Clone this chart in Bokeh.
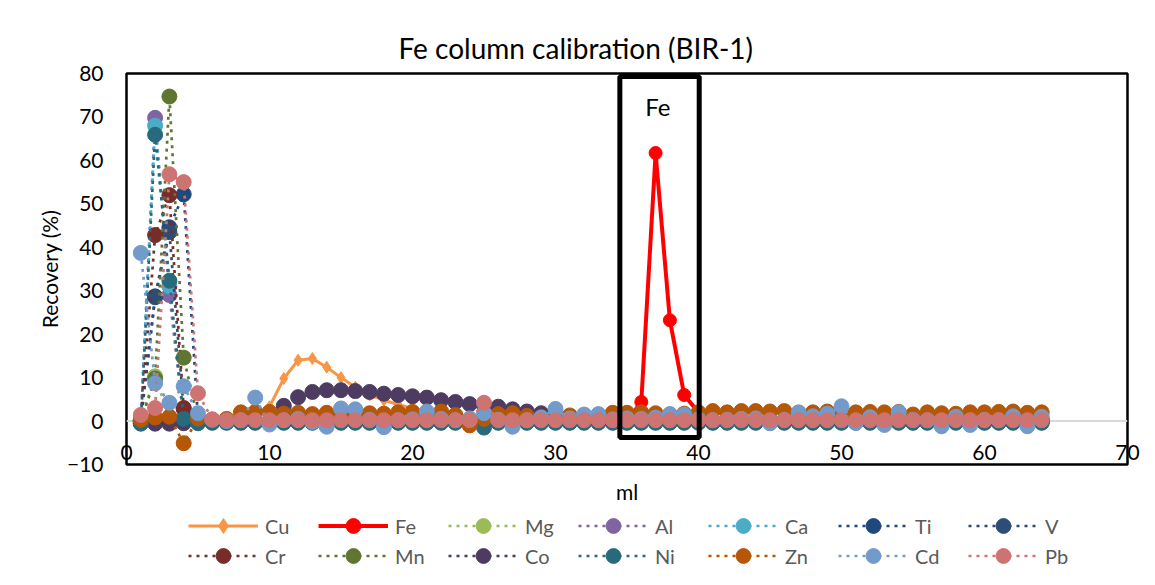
from bokeh.plotting import figure
from bokeh.layouts import column
from bokeh.models import Range1d, Span, BoxAnnotation, Label, Legend, LegendItem, FixedTicker
from bokeh.embed import file_html
from bokeh.resources import INLINE

# ---------------- data ----------------
ml = list(range(1, 65))

x_ticks = [0, 10, 20, 30, 40, 50, 60, 70]
y_ticks = [-10, 0, 10, 20, 30, 40, 50, 60, 70, 80]

cu = [0.0, 0.1, 0.0, 0.2, 0.1, 0.0, 0.1, 0.2, 0.6, 3.3,
      9.8, 14.0, 14.4, 12.4, 10.0, 7.8, 6.0, 4.8, 3.8, 2.9,
      2.2, 1.6, 1.2, 0.9, 0.7, 0.6, 0.5, 0.4, 0.4, 0.3,
      0.3, 0.3, 0.2, 0.2, 0.2, 0.2, 0.2, 0.2, 0.2, 0.2,
      0.2, 0.2, 0.2, 0.2, 0.2, 0.2, 0.2, 0.2, 0.2, 0.2,
      0.2, 0.2, 0.2, 0.2, 0.2, 0.2, 0.2, 0.2, 0.2, 0.2,
      0.2, 0.2, 0.2, 0.2]
fe = [0.1, 0.1, 0.1, 0.1, 0.1, 0.1, 0.1, 0.1, 0.1, 0.1,
      0.1, 0.1, 0.1, 0.1, 0.1, 0.1, 0.1, 0.1, 0.1, 0.1,
      0.1, 0.1, 0.1, 0.1, 0.1, 0.1, 0.1, 0.1, 0.1, 0.1,
      0.1, 0.1, 0.1, 0.1, 0.1, 4.4, 61.7, 23.2, 6.0, 2.0,
      0.3, 0.3, 0.3, 0.3, 0.3, 0.3, 0.3, 0.3, 0.3, 0.3,
      0.3, 0.3, 0.3, 0.3, 0.3, 0.3, 0.3, 0.3, 0.3, 0.3,
      0.3, 0.3, 0.3, 0.3]
mg = [0.2, 10.3, 0.8, 0.1, 0.0, 0.0, 0.0, 0.0, 0.0, 0.0,
      0.0, 0.0, 0.0, 0.0, 0.0, 0.0, 0.0, 0.0, 0.0, 0.0,
      0.0, 0.0, 0.0, 0.0, 0.0, 0.0, 0.0, 0.0, 0.0, 0.0,
      0.0, 0.0, 0.0, 0.0, 0.0, 0.0, 0.0, 0.0, 0.0, 0.0,
      0.0, 0.0, 0.0, 0.0, 0.0, 0.0, 0.0, 0.0, 0.0, 0.0,
      0.0, 0.0, 0.0, 0.0, 0.0, 0.0, 0.0, 0.0, 0.0, 0.0,
      0.0, 0.0, 0.0, 0.0]
al = [-0.2, 69.8, 29.0, 0.3, -0.3, -0.3, -0.3, -0.3, -0.3, -0.3,
      -0.3, -0.3, -0.3, -0.3, -0.3, -0.3, -0.3, -0.3, -0.3, -0.3,
      -0.3, -0.3, -0.3, -0.3, -0.3, -0.3, -0.3, -0.3, -0.3, -0.3,
      -0.3, -0.3, -0.3, -0.3, -0.3, -0.3, -0.3, -0.3, -0.3, -0.3,
      -0.3, -0.3, -0.3, -0.3, -0.3, -0.3, -0.3, -0.3, -0.3, -0.3,
      -0.3, -0.3, -0.3, -0.3, -0.3, -0.3, -0.3, -0.3, -0.3, -0.3,
      -0.3, -0.3, -0.3, -0.3]
ca = [0.0, 68.0, 31.0, 0.5, 0.0, 0.0, 0.0, 0.0, 0.0, 0.0,
      0.0, 0.0, 0.0, 0.0, 0.0, 0.0, 0.0, 0.0, 0.0, 0.0,
      0.0, 0.0, 0.0, 0.0, 0.0, 0.0, 0.0, 0.0, 0.0, 0.0,
      0.0, 0.0, 0.0, 0.0, 0.0, 0.0, 0.0, 0.0, 0.0, 0.0,
      0.0, 0.0, 0.0, 0.0, 0.0, 0.0, 0.0, 0.0, 0.0, 0.0,
      0.0, 0.0, 0.0, 0.0, 0.0, 0.0, 0.0, 0.0, 0.0, 0.0,
      0.0, 0.0, 0.0, 0.0]
ti = [0.0, 28.7, 44.6, 52.2, 0.6, 0.0, 0.0, 0.0, 0.0, 0.0,
      0.0, 0.0, 0.0, 0.0, 0.0, 0.0, 0.0, 0.0, 0.0, 0.0,
      0.0, 0.0, 0.0, 0.0, 0.0, 0.0, 0.0, 0.0, 0.0, 0.0,
      0.0, 0.0, 0.0, 0.0, 0.0, 0.0, 0.0, 0.0, 0.0, 0.0,
      0.0, 0.0, 0.0, 0.0, 0.0, 0.0, 0.0, 0.0, 0.0, 0.0,
      0.0, 0.0, 0.0, 0.0, 0.0, 0.0, 0.0, 0.0, 0.0, 0.0,
      0.0, 0.0, 0.0, 0.0]
v = [0.1, 28.5, 43.5, 2.8, 0.3, 0.0, 0.0, 0.0, 0.0, 0.0,
     0.0, 0.0, 0.0, 0.0, 0.0, 0.0, 0.0, 0.0, 0.0, 0.0,
     0.0, 0.0, 0.0, 0.0, 0.0, 0.0, 0.0, 0.0, 0.0, 0.0,
     0.0, 0.0, 0.0, 0.0, 0.0, 0.0, 0.0, 0.0, 0.0, 0.0,
     0.0, 0.0, 0.0, 0.0, 0.0, 0.0, 0.0, 0.0, 0.0, 0.0,
     0.0, 0.0, 0.0, 0.0, 0.0, 0.0, 0.0, 0.0, 0.0, 0.0,
     0.0, 0.0, 0.0, 0.0]
cr = [0.0, 42.8, 52.0, 3.0, 0.2, 0.0, 0.0, 0.0, 0.0, 0.0,
      0.0, 0.0, 0.0, 0.0, 0.0, 0.0, 0.0, 0.0, 0.0, 0.0,
      0.0, 0.0, 0.0, 0.0, 0.0, 0.0, 0.0, 0.0, 0.0, 0.0,
      0.0, 0.0, 0.0, 0.0, 0.0, 0.0, 0.0, 0.0, 0.0, 0.0,
      0.0, 0.0, 0.0, 0.0, 0.0, 0.0, 0.0, 0.0, 0.0, 0.0,
      0.0, 0.0, 0.0, 0.0, 0.0, 0.0, 0.0, 0.0, 0.0, 0.0,
      0.0, 0.0, 0.0, 0.0]
mn = [0.0, 9.8, 74.7, 14.6, 0.4, 0.0, 0.0, 0.0, 0.0, 0.0,
      0.0, 0.0, 0.0, 0.0, 0.0, 0.0, 0.0, 0.0, 0.0, 0.0,
      0.0, 0.0, 0.0, 0.0, 0.0, 0.0, 0.0, 0.0, 0.0, 0.0,
      0.0, 0.0, 0.0, 0.0, 0.0, 0.0, 0.0, 0.0, 0.0, 0.0,
      0.0, 0.0, 0.0, 0.0, 0.0, 0.0, 0.0, 0.0, 0.0, 0.0,
      0.0, 0.0, 0.0, 0.0, 0.0, 0.0, 0.0, 0.0, 0.0, 0.0,
      0.0, 0.0, 0.0, 0.0]
co = [-0.5, -0.6, -0.6, -0.5, -0.3, -0.2, -0.2, -0.1, 0.0, 0.0,
      3.5, 5.5, 6.7, 7.1, 7.1, 6.9, 6.7, 6.3, 6.0, 5.7,
      5.4, 4.8, 4.4, 3.9, 3.6, 3.3, 2.7, 2.2, 1.8, 1.1,
      0.6, 0.4, 0.2, 0.2, 0.2, 0.2, 0.2, 0.2, 0.2, 0.2,
      0.2, 0.2, 0.2, 0.2, 0.2, 0.2, 0.2, 0.2, 0.2, 0.2,
      0.2, 0.2, 0.2, 0.2, 0.2, 0.2, 0.2, 0.2, 0.2, 0.2,
      0.2, 0.2, 0.2, 0.2]
ni = [-0.6, 65.9, 32.3, 0.5, -0.5, -0.4, -0.4, -0.4, -0.4, -0.4,
      -0.4, -0.4, -0.4, -0.4, -0.4, -0.4, -0.4, -0.4, -0.4, -0.4,
      -0.4, -0.4, -0.4, -0.4, -1.5, -0.4, -0.4, -0.4, -0.4, -0.4,
      -0.4, -0.4, -0.4, -0.4, -0.4, -0.4, -0.4, -0.4, -0.4, -0.4,
      -0.4, -0.4, -0.4, -0.4, -0.4, -0.4, -0.4, -0.4, -0.4, -0.4,
      -0.4, -0.4, -0.4, -0.4, -0.4, -0.4, -0.4, -0.4, -0.4, -0.4,
      -0.4, -0.4, -0.4, -0.4]
zn = [0.3, 0.8, 1.0, -5.1, 0.6, 0.3, 0.5, 2.0, 2.1, 2.1,
      1.7, 1.9, 1.6, 1.9, 1.3, 1.6, 1.8, 1.7, 2.0, 2.1,
      1.2, 2.2, 1.4, -1.0, 0.5, 1.6, 1.8, 1.2, 0.9, 1.0,
      1.3, 1.0, 1.2, 1.9, 1.9, 2.0, 1.8, 1.5, 1.7, 2.0,
      2.3, 2.0, 2.3, 2.3, 2.2, 2.3, 1.9, 2.0, 2.2, 1.6,
      2.0, 2.1, 2.0, 2.1, 1.5, 2.0, 1.8, 1.7, 2.0, 2.0,
      2.1, 2.2, 1.9, 2.0]
cd = [38.7, 8.7, 4.2, 8.0, 1.8, 0.3, 0.0, 0.2, 5.4, -0.8,
      0.2, 0.5, -0.2, -1.3, 2.9, 2.7, 0.3, -1.4, 0.2, 0.4,
      2.2, 0.5, 0.2, 0.6, 1.8, 0.3, -1.3, 0.2, 0.8, 2.8,
      0.6, 1.5, 1.6, 0.4, 0.6, 0.5, 0.8, 1.6, 1.5, 0.4,
      0.2, 0.3, 0.5, 0.6, -0.5, 0.3, 2.0, 1.1, 1.7, 3.4,
      -0.4, 0.9, -0.9, 2.0, 0.3, 0.2, -1.2, 1.0, -0.9, 0.3,
      0.2, 1.1, -1.2, 1.0]
pb = [1.4, 3.0, 56.8, 55.0, 6.4, 0.4, 0.2, 0.2, 0.2, 0.2,
      0.2, 0.2, 0.2, 0.2, 0.2, 0.2, 0.2, 0.2, 0.2, 0.2,
      0.2, 0.2, 0.2, 0.2, 4.2, 0.2, 0.2, 0.2, 0.2, 0.2,
      0.2, 0.2, 0.2, 0.2, 0.2, 0.2, 0.2, 0.2, 0.2, 0.2,
      0.2, 0.2, 0.2, 0.2, 0.2, 0.2, 0.2, 0.2, 0.2, 0.2,
      0.2, 0.2, 0.2, 0.2, 0.2, 0.2, 0.2, 0.2, 0.2, 0.2,
      0.2, 0.2, 0.2, 0.2]

names = ["Cu", "Fe", "Mg", "Al", "Ca", "Ti", "V",
         "Cr", "Mn", "Co", "Ni", "Zn", "Cd", "Pb"]
values = [cu, fe, mg, al, ca, ti, v, cr, mn, co, ni, zn, cd, pb]
colors = ["#F79646", "#FF0000", "#9BBB59", "#8064A2", "#4BACC6", "#1F497D", "#2C4D75",
          "#772C2A", "#5F7530", "#4D3B62", "#276A7C", "#B65708", "#729ACA", "#CD7371"]

# Fe highlight box (annotation bounds)
fe_box = dict(left=34.5, right=40.05, bottom=-3.8, top=79.3)
fe_label_pos = (37.15, 72.4)

FONT = "Lato"


def style_for(name, col):
    if name == "Cu":
        return (dict(line_color=col, line_width=3),
                dict(marker="diamond", size=12, fill_color=col, line_color=col))
    if name == "Fe":
        return (dict(line_color=col, line_width=4),
                dict(marker="circle", size=13, fill_color=col, line_color=col))
    return (dict(line_color=col, line_width=2.7, line_dash="3 5"),
            dict(marker="circle", size=15, fill_color=col, line_color=col))


# ---------------- main figure ----------------
p = figure(frame_width=1001, frame_height=391, output_backend="svg", toolbar_location=None,
           x_range=Range1d(0, 70), y_range=Range1d(-10, 80),
           min_border_left=126, min_border_right=28, min_border_top=73,
           min_border_bottom=46)

p.title.text = "Fe column calibration (BIR-1)"
p.title.text_font = FONT
p.title.text_font_size = "28px"
p.title.text_font_style = "normal"
p.title.text_color = "#000000"
p.title.align = "left"
p.title.offset = 272
p.title.standoff = 17

p.grid.visible = False
p.outline_line_color = "#000000"
p.outline_line_width = 2.5
p.background_fill_color = "white"
p.border_fill_color = "white"

for ax in (p.xaxis, p.yaxis):
    ax.axis_line_color = None
    ax.major_tick_line_color = None
    ax.minor_tick_line_color = None
    ax.major_label_text_font = FONT
    ax.major_label_text_font_size = "21px"
    ax.major_label_text_color = "#000000"
    ax.axis_label_text_font = FONT
    ax.axis_label_text_font_size = "21px"
    ax.axis_label_text_font_style = "normal"
    ax.axis_label_text_color = "#000000"

p.xaxis.ticker = FixedTicker(ticks=x_ticks)
p.yaxis.ticker = FixedTicker(ticks=y_ticks)
p.xaxis.axis_label = "ml"
p.yaxis.axis_label = "Recovery (%)"
p.xaxis.major_label_standoff = -26
p.xaxis.axis_label_standoff = 16
p.yaxis.major_label_standoff = 17
p.yaxis.axis_label_standoff = 2

p.add_layout(Span(location=0, dimension="width", line_color="#D9D9D9",
                  line_width=2, level="underlay"))

for name, vals, col in zip(names, values, colors):
    ls, ms = style_for(name, col)
    p.line(ml, vals, **ls)
    p.scatter(ml, vals, **ms)

p.add_layout(BoxAnnotation(fill_color=None, fill_alpha=0, line_color="#000000",
                           line_alpha=1.0, line_width=5, **fe_box))
p.add_layout(Label(x=fe_label_pos[0], y=fe_label_pos[1], text="Fe", text_font=FONT,
                   text_font_size="24px", text_align="center", text_baseline="middle",
                   text_color="#000000"))

# ---------------- legend strip ----------------
# (series are re-plotted here outside the visible range; only their legend glyphs show)
lg = figure(width=1155, height=75, output_backend="svg", toolbar_location=None,
            x_range=Range1d(-3, -2), y_range=Range1d(-3, -2),
            x_axis_location=None, y_axis_location=None,
            min_border=0, outline_line_color=None)
lg.grid.visible = False
lg.border_fill_color = "white"
lg.background_fill_color = "white"

items = []
for name, vals, col in zip(names, values, colors):
    ls, ms = style_for(name, col)
    lr = lg.line(ml, vals, **ls)
    sr = lg.scatter(ml, vals, **ms)
    items.append(LegendItem(label=name, renderers=[lr, sr]))

legend_style = dict(orientation="horizontal",
                    glyph_width=70, glyph_height=37, label_standoff=7, label_width=45,
                    label_height=37, spacing=8, padding=0, margin=0,
                    border_line_color=None, background_fill_alpha=0,
                    label_text_font=FONT, label_text_font_size="20px",
                    label_text_color="#595959")
lg.add_layout(Legend(items=items[:7], location=(62, 41), **legend_style), "center")
lg.add_layout(Legend(items=items[7:], location=(62, 11), **legend_style), "center")

layout = column(p, lg, spacing=0)
open("out.html", "w").write(file_html(layout, INLINE))
